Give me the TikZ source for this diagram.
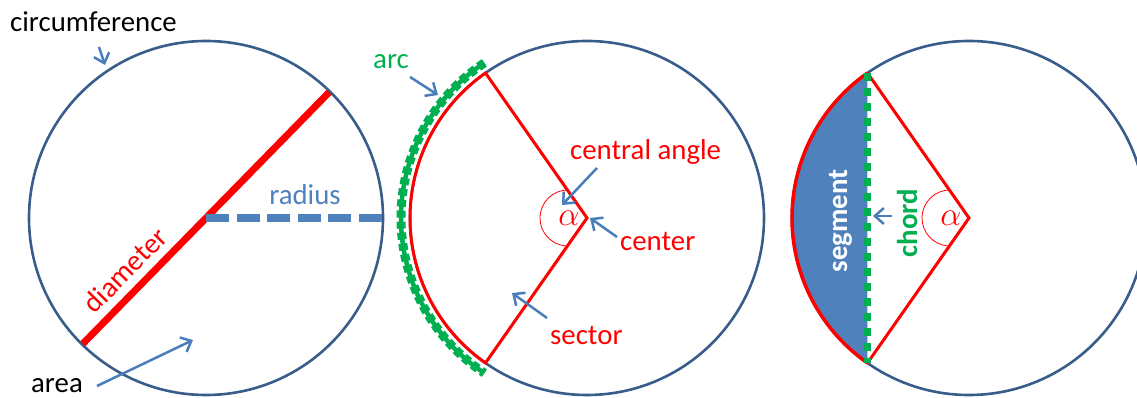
\documentclass[tikz,border=0pt]{standalone}
\usepackage{fontspec}
\setmainfont{Carlito}
\usetikzlibrary{arrows.meta}
\definecolor{rim}{HTML}{385D8A}
\definecolor{arrowblue}{HTML}{4A7EBB}
\definecolor{steel}{HTML}{4F81BD}
\definecolor{arcgreen}{HTML}{00B050}
\definecolor{redline}{HTML}{FF0000}

\begin{document}
\begin{tikzpicture}[x=1pt, y=1pt, font=\fontsize{28.8}{34}\selectfont,
  rim/.style={draw=rim, line width=2.6pt},
  pointer/.style={draw=arrowblue, line width=2.5pt,
    -{Straight Barb[length=9pt,width=16pt]}},
  tag/.style={inner sep=0pt},
  sector/.style={draw=redline, line width=3pt},
  arcband/.style={draw=arcgreen, line width=9pt, dash pattern=on 7pt off 4pt}]
\clip (0,0) rectangle (1137,398);
\coordinate (c1) at (206,180);
\coordinate (c2) at (587,180);
\coordinate (c3) at (969,180);

% first circle: diameter, radius
\draw[rim] (c1) circle[radius=177pt];
\coordinate (dtop) at ([shift={(45.6:176pt)}]c1);
\coordinate (dbot) at ([shift={(225.6:176pt)}]c1);
\coordinate (redge) at ([shift={(176pt,0pt)}]c1);
\draw[redline, line width=7pt] (dbot) -- (dtop);
\draw[steel, line width=8pt, dash pattern=on 23pt off 7.5pt] (c1) -- (redge);
\node[tag, anchor=base, text=steel] (radius) at (305,193) {radius};
\node[tag, text=redline, rotate=45.6] (diameter) at (125,128) {diameter};
\node[tag, anchor=base west] (circumference) at (10,366) {circumference};
\node[tag, anchor=base west] (area) at (31,5) {area};
\coordinate (circtail) at (99,351);
\coordinate (circtip) at (105,333);
\coordinate (areatail) at (97,12);
\coordinate (areatip) at (193,58);
\draw[pointer] (circtail) -- (circtip);
\draw[pointer] (areatail) -- (areatip);

% second circle: sector, arc, central angle
\draw[rim] (c2) circle[radius=177pt];
\coordinate (s2top) at ([shift={(125:177pt)}]c2);
\coordinate (s2bot) at ([shift={(235:177pt)}]c2);
\draw[sector] (c2) -- (s2top) arc[start angle=125, end angle=235, radius=177pt] -- cycle;
\draw[arcband] ([shift={(123.5:186pt)}]c2) arc[start angle=123.5, end angle=236.5, radius=186pt];
\draw[arcgreen, line width=4.5pt] ([shift={(123.5:186pt)}]c2) arc[start angle=123.5, end angle=236.5, radius=186pt];
\draw[redline, line width=0.8pt] ([shift={(-19pt,0pt)}]c2) ++(90:28pt) arc[start angle=90, end angle=265, radius=28pt];
\node[tag, text=redline] (alpha2) at ([xshift=-18pt]c2) {\scalebox{1.35}{$\alpha$}};
\node[tag, anchor=base west, text=arcgreen] (arc) at (373,329) {arc};
\node[tag, anchor=base west, text=redline] (angle) at (570,238) {central angle};
\node[tag, anchor=base west, text=redline] (center) at (620,147) {center};
\node[tag, anchor=base west, text=redline] (sector) at (550,53) {sector};
\coordinate (arctail) at (410,321);
\coordinate (arctip) at (438,303);
\coordinate (angletail) at (597,230);
\coordinate (angletip) at (562,193);
\coordinate (centertail) at (617,161);
\coordinate (centertip) at (590,180);
\coordinate (sectortail) at (547,80);
\coordinate (sectortip) at (512,105);
\draw[pointer] (arctail) -- (arctip);
\draw[pointer] (angletail) -- (angletip);
\draw[pointer] (centertail) -- (centertip);
\draw[pointer] (sectortail) -- (sectortip);

% third circle: segment and chord
\draw[rim] (c3) circle[radius=177pt];
\coordinate (s3top) at ([shift={(125:177pt)}]c3);
\coordinate (s3bot) at ([shift={(235:177pt)}]c3);
\fill[steel] (s3top) arc[start angle=125, end angle=235, radius=177pt] -- cycle;
\draw[redline, line width=3.5pt] (s3top) arc[start angle=125, end angle=235, radius=177pt];
\draw[sector] (s3top) -- (c3) -- (s3bot);
\draw[arcgreen, line width=7pt, dash pattern=on 7.5pt off 7.5pt] (s3top) -- (s3bot);
\draw[redline, line width=0.8pt] ([shift={(-19pt,0pt)}]c3) ++(90:28pt) arc[start angle=90, end angle=265, radius=28pt];
\node[tag, text=redline] (alpha3) at ([xshift=-18pt]c3) {\scalebox{1.35}{$\alpha$}};
\node[tag, anchor=base, rotate=90, text=white, font=\fontsize{28.8}{34}\selectfont\bfseries] (segment) at (847,177) {segment};
\node[tag, anchor=base, rotate=90, text=arcgreen, font=\fontsize{28.8}{34}\selectfont\bfseries] (chord) at (917,175) {chord};
\coordinate (chordtail) at (892,182);
\coordinate (chordtip) at (873,182);
\draw[pointer] (chordtail) -- (chordtip);
\end{tikzpicture}
\end{document}
